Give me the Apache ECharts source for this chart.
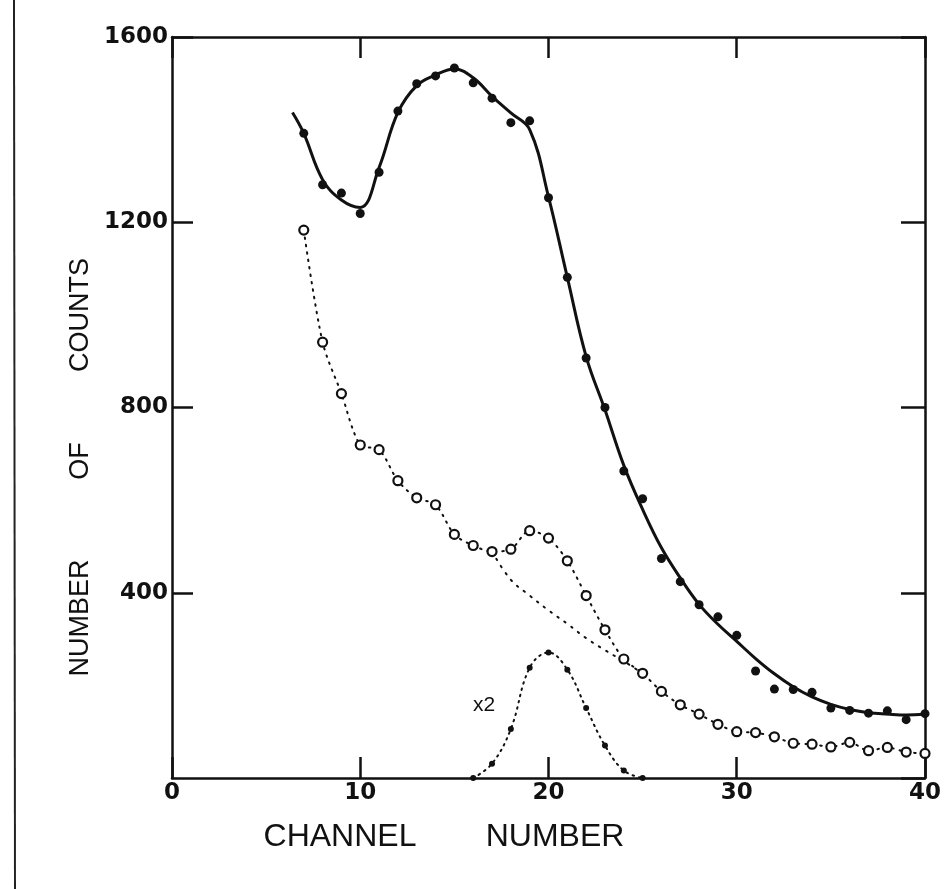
<!DOCTYPE html>
<html lang="en">
  <head>
    <meta charset="UTF-8" />
    <title>Channel counts</title>
    <style>
      html,
      body {
        margin: 0;
        padding: 0;
        background: #fff;
      }
      #chart {
        width: 944px;
        height: 889px;
      }
    </style>
  </head>
  <body>
    <div id="chart"></div>
    <script src="https://cdn.jsdelivr.net/npm/echarts@6/dist/echarts.min.js"></script>
    <script>
      // channels 7..40
      const channels = [
        7, 8, 9, 10, 11, 12, 13, 14, 15, 16, 17, 18, 19, 20, 21, 22, 23, 24,
        25, 26, 27, 28, 29, 30, 31, 32, 33, 34, 35, 36, 37, 38, 39, 40,
      ];
      // filled dots (upper curve)
      const filledCounts = [
        1392, 1281, 1263, 1219, 1308, 1440, 1499, 1516, 1533, 1501, 1468,
        1415, 1419, 1253, 1081, 907, 800, 663, 603, 474, 424, 374, 348, 308,
        231, 192, 191, 185, 151, 146, 140, 145, 126, 139,
      ];
      // open circles (dotted curve)
      const openCounts = [
        1183, 941, 830, 719, 709, 642, 605, 590, 526, 502, 489, 494, 534, 518,
        469, 394, 320, 257, 226, 187, 158, 138, 116, 100, 98, 89, 75, 73, 67,
        77, 59, 66, 56, 53,
      ];

      // hand drawn curve through the filled dots
      const curveChannels = [
        6.4, 7, 8, 9, 10, 11, 12, 13, 14, 15, 16, 17, 18, 19, 20, 21, 22, 23,
        24, 25, 26, 27, 28, 29, 30, 31, 32, 33, 34, 35, 36, 37, 38, 39, 40,
      ];
      const curveCounts = [
        1437, 1392, 1292, 1248, 1232, 1318, 1437, 1495, 1518, 1531, 1512,
        1472, 1436, 1400, 1255, 1081, 910, 795, 675, 580, 497, 432, 375, 332,
        295, 258, 225, 197, 175, 159, 148, 141, 138, 136, 138,
      ];

      // dotted background under the bump
      const bgChannels = [17, 18, 19, 20, 21, 22, 23, 24, 25];
      const bgCounts = [489, 428, 394, 362, 333, 302, 276, 252, 226];

      // x2 peak
      const peakChannels = [16, 17, 18, 19, 20, 21, 22, 23, 24, 25];
      const peakCounts = [0, 31, 106, 238, 271, 234, 151, 70, 16, 0];

      const xTicks = [0, 10, 20, 30, 40];
      const yTicks = [0, 400, 800, 1200, 1600];

      const pair = (xs, ys) => xs.map((x, i) => [x, ys[i]]);

      const labelFont = {
        fontFamily: "DejaVu Sans",
        fontWeight: "bold",
        fontSize: 23,
        color: "#111",
      };
      const titleFont = {
        fontFamily: "Liberation Sans",
        fill: "#111",
      };

      const frameAxis = {
        type: "value",
        axisLine: { show: true, onZero: false, lineStyle: { color: "#111", width: 2.5 } },
        axisTick: { show: true, inside: true, length: 21, lineStyle: { color: "#111", width: 2.5 } },
        splitLine: { show: false },
      };

      const chart = echarts.init(document.getElementById("chart"));
      chart.setOption({
        backgroundColor: "#fff",
        animation: false,
        grid: { left: 172, right: 14, top: 37, bottom: 111 },
        xAxis: [
          Object.assign({}, frameAxis, {
            position: "bottom",
            min: xTicks[0],
            max: xTicks[xTicks.length - 1],
            interval: 10,
            axisLabel: Object.assign({ margin: 4, formatter: (v) => String(v) }, labelFont),
          }),
          Object.assign({}, frameAxis, {
            position: "top",
            min: xTicks[0],
            max: xTicks[xTicks.length - 1],
            interval: 10,
            axisLabel: { show: false },
          }),
        ],
        yAxis: [
          Object.assign({}, frameAxis, {
            position: "left",
            min: yTicks[0],
            max: yTicks[yTicks.length - 1],
            interval: 400,
            axisLabel: Object.assign(
              { margin: 4, showMinLabel: false, formatter: (v) => String(v) },
              labelFont
            ),
          }),
          Object.assign({}, frameAxis, {
            position: "right",
            min: yTicks[0],
            max: yTicks[yTicks.length - 1],
            interval: 400,
            axisTick: { show: true, inside: true, length: 24, lineStyle: { color: "#111", width: 2.5 } },
            axisLabel: { show: false },
          }),
        ],
        series: [
          {
            type: "line",
            data: pair(curveChannels, curveCounts),
            smooth: 0.4,
            symbol: "none",
            lineStyle: { color: "#111", width: 3 },
            z: 2,
          },
          {
            type: "scatter",
            data: pair(channels, filledCounts),
            symbol: "circle",
            symbolSize: 9,
            itemStyle: { color: "#111", opacity: 1 },
            z: 5,
          },
          {
            type: "line",
            data: pair(channels, openCounts),
            smooth: 0.3,
            symbol: "circle",
            symbolSize: 9,
            showAllSymbol: true,
            itemStyle: { color: "#fff", borderColor: "#111", borderWidth: 2.2 },
            lineStyle: { color: "#111", width: 2, type: [1.5, 6], cap: "round" },
            z: 4,
          },
          {
            type: "line",
            data: pair(bgChannels, bgCounts),
            smooth: 0.4,
            symbol: "none",
            lineStyle: { color: "#111", width: 2, type: [1.5, 7], cap: "round" },
            z: 3,
          },
          {
            type: "line",
            data: pair(peakChannels, peakCounts),
            smooth: 0.4,
            symbol: "circle",
            symbolSize: 6,
            showAllSymbol: true,
            itemStyle: { color: "#111" },
            lineStyle: { color: "#111", width: 2, type: [1.5, 5], cap: "round" },
            z: 4,
          },
        ],
        graphic: [
          // scan edge line at the left
          {
            type: "line",
            shape: { x1: 14, y1: 0, x2: 15, y2: 889 },
            style: { stroke: "#222", lineWidth: 2 },
          },
          {
            type: "text",
            x: 484,
            y: 705,
            style: Object.assign({ text: "x2", fontSize: 21, textAlign: "center", textVerticalAlign: "middle" }, titleFont),
          },
          {
            type: "text",
            x: 340,
            y: 837,
            style: Object.assign({ text: "CHANNEL", fontSize: 32, textAlign: "center", textVerticalAlign: "middle" }, titleFont),
          },
          {
            type: "text",
            x: 555,
            y: 837,
            style: Object.assign({ text: "NUMBER", fontSize: 32, textAlign: "center", textVerticalAlign: "middle" }, titleFont),
          },
          {
            type: "text",
            x: 81,
            y: 618,
            rotation: Math.PI / 2,
            style: Object.assign({ text: "NUMBER", fontSize: 27, textAlign: "center", textVerticalAlign: "middle" }, titleFont),
          },
          {
            type: "text",
            x: 81,
            y: 461,
            rotation: Math.PI / 2,
            style: Object.assign({ text: "OF", fontSize: 27, textAlign: "center", textVerticalAlign: "middle" }, titleFont),
          },
          {
            type: "text",
            x: 81,
            y: 315,
            rotation: Math.PI / 2,
            style: Object.assign({ text: "COUNTS", fontSize: 27, textAlign: "center", textVerticalAlign: "middle" }, titleFont),
          },
        ],
      });
    </script>
  </body>
</html>
